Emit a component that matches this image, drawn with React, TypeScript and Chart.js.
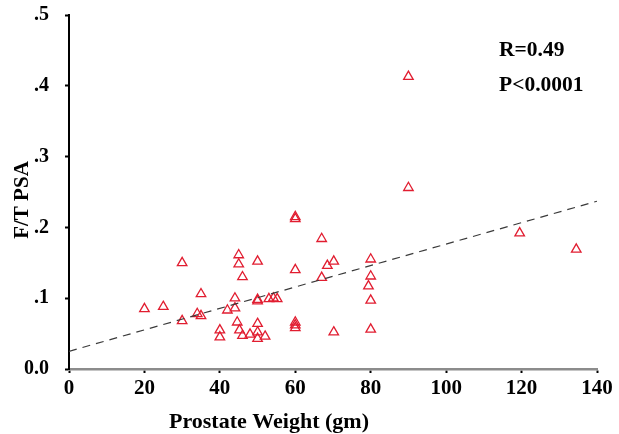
import React, { useEffect, useRef } from 'react';
import { Chart, registerables } from 'chart.js';

Chart.register(...registerables);

const weightGm = [
  20, 25, 30, 30, 34, 35, 35, 40, 40, 42, 44, 44, 44.6, 45, 45, 45.2, 46, 46, 48,
  50, 50, 50, 50, 50, 50, 52, 53, 54.2, 55.2, 60, 60, 60, 60, 60, 60, 67, 67, 68.5,
  70.2, 70.2, 80, 80, 79.4, 80, 80, 90, 90, 119.5, 134.5,
];
const ftPsa = [
  0.085, 0.088, 0.15, 0.068, 0.078, 0.075, 0.106, 0.055, 0.045, 0.083, 0.086, 0.1,
  0.066, 0.161, 0.148, 0.055, 0.13, 0.047, 0.049, 0.152, 0.098, 0.096, 0.064, 0.052,
  0.043, 0.046, 0.099, 0.1, 0.099, 0.215, 0.212, 0.14, 0.066, 0.062, 0.058, 0.184,
  0.129, 0.146, 0.152, 0.052, 0.155, 0.131, 0.117, 0.097, 0.056, 0.413, 0.256, 0.192,
  0.169,
];
const trendWeight = [0, 140];
const trendRatio = [0.025, 0.237];
const yTickLabels = ['0.0', '.1', '.2', '.3', '.4', '.5'];
const xTitle = 'Prostate Weight (gm)';
const yTitle = 'F/T PSA';
const statLines = ['R=0.49', 'P<0.0001'];

const SERIF = '"Liberation Serif", "Times New Roman", serif';

const textPlugin = {
  id: 'customText',
  afterDraw(chart: any) {
    const ctx = chart.ctx;
    const area = chart.chartArea;
    ctx.save();
    ctx.fillStyle = '#000';
    ctx.font = `bold 21.5px ${SERIF}`;
    ctx.textBaseline = 'middle';
    ctx.textAlign = 'left';
    ctx.fillText(statLines[0], area.left + 430, 50);
    ctx.fillText(statLines[1], area.left + 430, 85);
    ctx.font = `bold 22px ${SERIF}`;
    ctx.textAlign = 'center';
    ctx.fillText(xTitle, 269, 422);
    ctx.font = `bold 21px ${SERIF}`;
    ctx.translate(23, 200);
    ctx.rotate(-Math.PI / 2);
    ctx.fillText(yTitle, 0, 0);
    ctx.restore();
  },
};

export default function App() {
  const ref = useRef<HTMLCanvasElement>(null);
  useEffect(() => {
    if (!ref.current) return;
    const chart = new Chart(ref.current, {
      type: 'scatter',
      data: {
        datasets: [
          {
            type: 'line',
            label: 'Regression',
            data: trendWeight.map((x, i) => ({ x, y: trendRatio[i] })),
            borderColor: '#3a3a3a',
            borderWidth: 1.2,
            borderDash: [8, 6],
            pointRadius: 0,
            fill: false,
          } as any,
          {
            label: 'F/T PSA',
            data: weightGm.map((x, i) => ({ x, y: ftPsa[i] })),
            pointStyle: 'triangle',
            pointRadius: 5.5,
            borderColor: '#e11d30',
            backgroundColor: 'rgba(0,0,0,0)',
            borderWidth: 1.3,
          },
        ],
      },
      options: {
        responsive: false,
        animation: false,
        layout: { padding: { left: 0, top: 15, right: 22, bottom: 0 } },
        plugins: { legend: { display: false }, tooltip: { enabled: false } },
        scales: {
          x: {
            type: 'linear',
            min: 0,
            max: 140,
            afterFit: (s: any) => { s.height = 65; s.paddingLeft = 0; s.paddingRight = 0; },
            ticks: {
              stepSize: 20,
              color: '#000',
              padding: 3,
              font: { family: SERIF, size: 21, weight: 'bold' },
            },
            grid: { display: true, drawOnChartArea: false, tickLength: 4, tickColor: '#000', tickWidth: 2 },
            border: { color: '#8c8c8c', width: 2.5 },
          },
          y: {
            type: 'linear',
            min: 0,
            max: 0.5,
            afterFit: (s: any) => { s.width = 69; s.paddingTop = 0; s.paddingBottom = 0; },
            ticks: {
              stepSize: 0.1,
              color: '#000',
              padding: 16,
              font: { family: SERIF, size: 20, weight: 'bold' },
              callback: (_v: any, i: number) => yTickLabels[i],
            },
            grid: { display: true, drawOnChartArea: false, tickLength: 4, tickColor: '#000', tickWidth: 2 },
            border: { color: '#000', width: 2 },
          },
        },
      },
      plugins: [textPlugin],
    });
    return () => chart.destroy();
  }, []);
  return (
    <div style={{ position: 'absolute', left: 0, top: 0, width: 619, height: 434, background: '#fff' }}>
      <canvas ref={ref} width={619} height={434} style={{ display: 'block' }} />
    </div>
  );
}
